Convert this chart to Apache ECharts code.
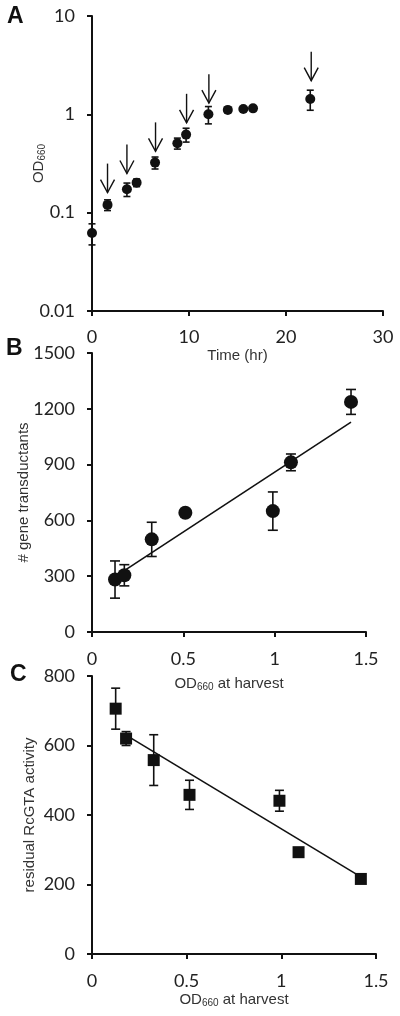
<!DOCTYPE html>
<html>
<head>
<meta charset="utf-8">
<script src="https://cdn.jsdelivr.net/npm/echarts@6/dist/echarts.min.js"></script>
<style>html,body{margin:0;padding:0;background:#fff}#c{width:400px;height:1016px}</style>
</head>
<body>
<div id="c"></div>
<script>
// Panel A: growth curve
var timeA = [0, 1.6, 3.6, 4.6, 6.5, 8.8, 9.7, 12.0, 14.0, 15.6, 16.6, 22.5];
var odA = [0.062, 0.12, 0.173, 0.202, 0.323, 0.508, 0.622, 1.0, 1.11, 1.135, 1.15, 1.43];
var odAErr = [0.015, 0.015, 0.027, 0.018, 0.045, 0.065, 0.1, 0.2, 0.07, 0.04, 0.04, 0.33];
var arrowTimes = [1.6, 3.6, 6.55, 9.75, 12.05, 22.6];
var arrowTipOD = [0.16, 0.25, 0.42, 0.82, 1.3, 2.2];
var yTicksA = ['0.01', '0.1', '1', '10'];
// Panel B: gene transductants vs OD at harvest
var odB = [0.126, 0.177, 0.327, 0.511, 0.99, 1.089, 1.418];
var transB = [282, 305, 498, 641, 650, 912, 1237];
var transErr = [100, 57, 92, 0, 103, 45, 67];
var trendB = [[0.177, 330], [1.418, 1128]];
// Panel C: residual RcGTA activity vs OD at harvest
var odC = [0.125, 0.18, 0.326, 0.515, 0.99, 1.091, 1.42];
var actC = [706, 620, 558, 458, 441, 293, 216];
var actErr = [59, 20, 73, 42, 30, 0, 0];
var trendC = [[0.18, 630], [1.42, 222]];

function pairs(xs, ys) { return xs.map(function (x, i) { return [x, ys[i]]; }); }
function errData(xs, ys, es) {
  var out = [];
  xs.forEach(function (x, i) { if (es[i] > 0) out.push([x, ys[i] - es[i], ys[i] + es[i]]); });
  return out;
}
function errRender(capHalf) {
  return function (params, api) {
    var x = api.value(0);
    var p1 = api.coord([x, api.value(2)]);
    var p2 = api.coord([x, api.value(1)]);
    var st = { stroke: '#111', lineWidth: 1.6 };
    return { type: 'group', children: [
      { type: 'line', shape: { x1: p1[0], y1: p1[1], x2: p2[0], y2: p2[1] }, style: st },
      { type: 'line', shape: { x1: p1[0] - capHalf, y1: p1[1], x2: p1[0] + capHalf, y2: p1[1] }, style: st },
      { type: 'line', shape: { x1: p2[0] - capHalf, y1: p2[1], x2: p2[0] + capHalf, y2: p2[1] }, style: st }
    ]};
  };
}
function arrowRender(params, api) {
  var tip = api.coord([api.value(0), api.value(1)]);
  var st = { stroke: '#111', lineWidth: 1.4, fill: null };
  return { type: 'group', children: [
    { type: 'line', shape: { x1: tip[0], y1: tip[1] - 29, x2: tip[0], y2: tip[1] }, style: st },
    { type: 'polyline', shape: { points: [[tip[0] - 7, tip[1] - 13], [tip[0], tip[1]], [tip[0] + 7, tip[1] - 13]] }, style: st }
  ]};
}

var tickFont = { fontFamily: 'Lato', fontSize: 18, color: '#222' };
var nameFontFamily = 'Liberation Sans';
var richSub = {
  a: { fontFamily: nameFontFamily, fontSize: 15, color: '#333' },
  s: { fontFamily: nameFontFamily, fontSize: 10, color: '#333', verticalAlign: 'bottom', padding: [7, 0, 0, 0] }
};
var axisCommon = {
  axisLine: { onZero: false, lineStyle: { color: '#111', width: 2 } },
  axisTick: { show: true, inside: false, length: 5, lineStyle: { color: '#111', width: 2 } },
  splitLine: { show: false },
  minorTick: { show: false }
};
function ax(extra) { var o = JSON.parse(JSON.stringify(axisCommon)); for (var k in extra) o[k] = extra[k]; return o; }
function plain(v) { return String(v); }

var chart = echarts.init(document.getElementById('c'), null, { renderer: 'canvas' });
chart.setOption({
  animation: false,
  backgroundColor: '#fff',
  graphic: [
    { type: 'text', left: 7, top: 5, style: { text: 'A', font: 'bold 23px "Liberation Sans"', fill: '#111' } },
    { type: 'text', left: 6, top: 337, style: { text: 'B', font: 'bold 23px "Liberation Sans"', fill: '#111' } },
    { type: 'text', left: 10, top: 663, style: { text: 'C', font: 'bold 23px "Liberation Sans"', fill: '#111' } }
  ],
  grid: [
    { left: 92, right: 17, top: 16, height: 295 },
    { left: 92, right: 34, top: 353, height: 279 },
    { left: 92, right: 24, top: 676, height: 278 }
  ],
  xAxis: [
    ax({ gridIndex: 0, type: 'value', min: 0, max: 30, interval: 10,
      axisLabel: Object.assign({ margin: 17, formatter: plain }, tickFont),
      name: 'Time (hr)', nameLocation: 'middle', nameGap: 37,
      nameTextStyle: { fontFamily: nameFontFamily, fontSize: 15, color: '#333' } }),
    ax({ gridIndex: 1, type: 'value', min: 0, max: 1.5, interval: 0.5,
      axisLabel: Object.assign({ margin: 18, formatter: plain }, tickFont),
      name: '{a|OD}{s|660}{a| at harvest}', nameLocation: 'middle', nameGap: 43,
      nameTextStyle: { rich: richSub } }),
    ax({ gridIndex: 2, type: 'value', min: 0, max: 1.5, interval: 0.5,
      axisLabel: Object.assign({ margin: 18, formatter: plain }, tickFont),
      name: '{a|OD}{s|660}{a| at harvest}', nameLocation: 'middle', nameGap: 37,
      nameTextStyle: { rich: richSub } })
  ],
  yAxis: [
    ax({ gridIndex: 0, type: 'log', logBase: 10, min: 0.01, max: 10,
      axisLabel: Object.assign({ margin: 17, formatter: function (v) {
        var i = Math.round(Math.log10(v)) + 2; return yTicksA[i] || String(v); } }, tickFont),
      name: '{a|OD}{s|660}', nameLocation: 'middle', nameGap: 45, nameMoveOverlap: false,
      nameTextStyle: { rich: richSub } }),
    ax({ gridIndex: 1, type: 'value', min: 0, max: 1500, interval: 300,
      axisLabel: Object.assign({ margin: 17, formatter: plain }, tickFont),
      name: '# gene transductants', nameLocation: 'middle', nameGap: 61, nameMoveOverlap: false,
      nameTextStyle: { fontFamily: nameFontFamily, fontSize: 15, color: '#333' } }),
    ax({ gridIndex: 2, type: 'value', min: 0, max: 800, interval: 200,
      axisLabel: Object.assign({ margin: 17, formatter: plain }, tickFont),
      name: 'residual RcGTA activity', nameLocation: 'middle', nameGap: 55, nameMoveOverlap: false,
      nameTextStyle: { fontFamily: nameFontFamily, fontSize: 15, color: '#333' } })
  ],
  series: [
    { type: 'custom', xAxisIndex: 0, yAxisIndex: 0, renderItem: errRender(3.5),
      encode: { x: 0, y: [1, 2] }, data: errData(timeA, odA, odAErr), z: 2 },
    { type: 'scatter', xAxisIndex: 0, yAxisIndex: 0, symbol: 'circle', symbolSize: 10,
      itemStyle: { color: '#111', opacity: 1 }, data: pairs(timeA, odA), z: 3 },
    { type: 'custom', xAxisIndex: 0, yAxisIndex: 0, renderItem: arrowRender,
      encode: { x: 0, y: 1 }, data: pairs(arrowTimes, arrowTipOD), z: 3 },

    { type: 'line', xAxisIndex: 1, yAxisIndex: 1, data: trendB, symbol: 'none',
      lineStyle: { color: '#111', width: 1.6 }, z: 1 },
    { type: 'custom', xAxisIndex: 1, yAxisIndex: 1, renderItem: errRender(5),
      encode: { x: 0, y: [1, 2] }, data: errData(odB, transB, transErr), z: 2 },
    { type: 'scatter', xAxisIndex: 1, yAxisIndex: 1, symbol: 'circle', symbolSize: 14,
      itemStyle: { color: '#111', opacity: 1 }, data: pairs(odB, transB), z: 3 },

    { type: 'line', xAxisIndex: 2, yAxisIndex: 2, data: trendC, symbol: 'none',
      lineStyle: { color: '#111', width: 1.6 }, z: 1 },
    { type: 'custom', xAxisIndex: 2, yAxisIndex: 2, renderItem: errRender(4.5),
      encode: { x: 0, y: [1, 2] }, data: errData(odC, actC, actErr), z: 2 },
    { type: 'scatter', xAxisIndex: 2, yAxisIndex: 2, symbol: 'rect', symbolSize: 12,
      itemStyle: { color: '#111', opacity: 1 }, data: pairs(odC, actC), z: 3 }
  ]
});
</script>
</body>
</html>
